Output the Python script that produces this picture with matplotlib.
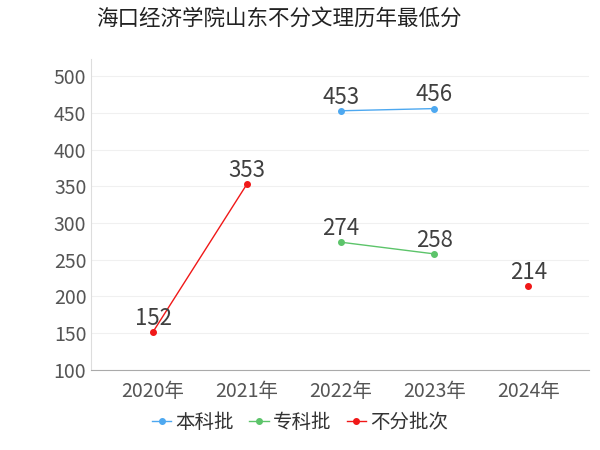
import matplotlib.pyplot as plt
import numpy as np

plt.rcParams['font.family'] = ['Noto Sans CJK SC', 'DejaVu Sans']

years = ["2020年", "2021年", "2022年", "2023年", "2024年"]
benke = [np.nan, np.nan, 453, 456, np.nan]
zhuanke = [np.nan, np.nan, 274, 258, np.nan]
bufen = [152, 353, np.nan, np.nan, 214]

series = [
    ("本科批", benke, "#4da8f0"),
    ("专科批", zhuanke, "#5cc46a"),
    ("不分批次", bufen, "#f01818"),
]

fig = plt.figure(figsize=(6, 4.5), dpi=100)
ax = fig.add_axes([0.152, 0.178, 0.83, 0.69])
x = np.arange(len(years))

for name, vals, color in series:
    ax.plot(x, vals, color=color, marker="o", markersize=4, linewidth=1, label=name)
    for xi, v in zip(x, vals):
        if not np.isnan(v):
            ax.text(xi, v + 3, f"{v:.0f}", ha="center", va="bottom",
                    fontsize=16, color="#404040")

ax.set_xlim(-0.66, 4.65)
ax.set_ylim(100, 523)
ax.set_yticks(range(100, 501, 50))
ax.set_xticks(x)
ax.set_xticklabels(years)
ax.tick_params(axis="both", labelsize=14, colors="#555555", length=0)
ax.tick_params(axis="x", pad=8)
ax.grid(axis="y", color="#f0f0f0", linewidth=0.8)
for s in ("top", "right"):
    ax.spines[s].set_visible(False)
ax.spines["left"].set_color("#dddddd")
ax.spines["bottom"].set_color("#aaaaaa")

fig.text(0.16, 0.958, "海口经济学院山东不分文理历年最低分", fontsize=15.5,
         color="#222222", va="center")
fig.legend(loc="lower center", bbox_to_anchor=(0.5, 0.0), ncol=3, frameon=False,
           fontsize=14, handlelength=1.0, handletextpad=0.2, columnspacing=0.8,
           labelcolor="#333333")

fig.savefig("out.png", dpi=100)
